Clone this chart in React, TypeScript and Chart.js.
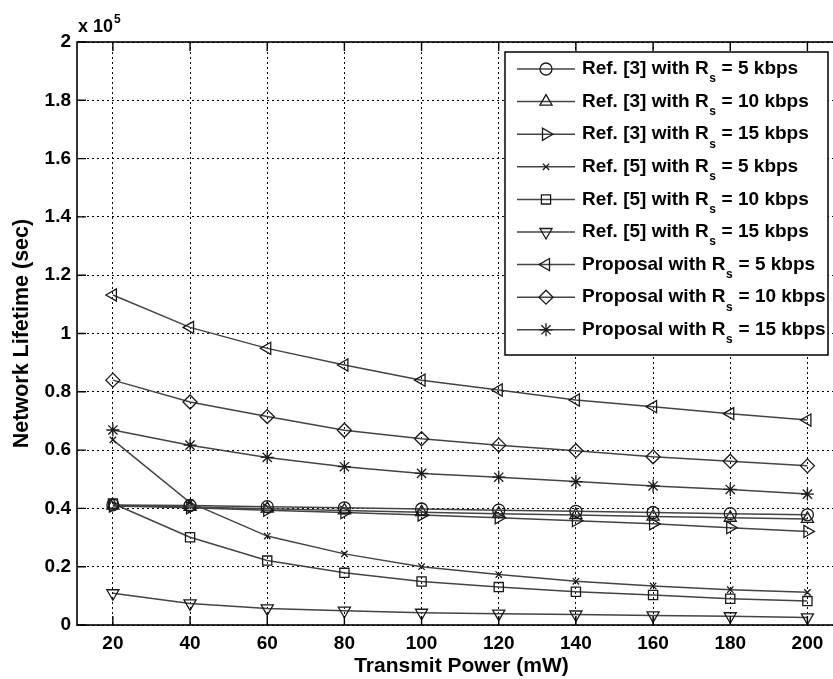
import React, { useEffect, useRef } from 'react';
import { Chart, registerables } from 'chart.js';
import { drawPoint } from 'chart.js/helpers';

Chart.register(...registerables);

// ---- data ----
const powers = [20, 40, 60, 80, 100, 120, 140, 160, 180, 200];
const xTickValues = [20, 40, 60, 80, 100, 120, 140, 160, 180, 200];
const yTickValues = [0, 20000, 40000, 60000, 80000, 100000, 120000, 140000, 160000, 180000, 200000];

const ref3Rs5 = [41200, 41000, 40600, 40200, 39800, 39400, 39000, 38600, 38200, 37800];
const ref3Rs10 = [41000, 40500, 39900, 39300, 38700, 38200, 37700, 37200, 36800, 36400];
const ref3Rs15 = [40800, 40200, 39400, 38600, 37700, 36800, 35800, 34700, 33400, 32100];
const ref5Rs5 = [63500, 42000, 30500, 24400, 20000, 17300, 15000, 13400, 12100, 11200];
const ref5Rs10 = [41700, 30100, 22100, 17900, 14900, 13000, 11400, 10300, 9000, 8200];
const ref5Rs15 = [10900, 7400, 5700, 4900, 4200, 3900, 3600, 3300, 3000, 2600];
const propRs5 = [113200, 102100, 94900, 89200, 84000, 80600, 77200, 74900, 72500, 70300];
const propRs10 = [84000, 76500, 71500, 66800, 63900, 61700, 59800, 57700, 56200, 54600];
const propRs15 = [66900, 61700, 57500, 54300, 52000, 50700, 49200, 47700, 46500, 44900];

const legendPrefixes = [
  'Ref. [3] with R', 'Ref. [3] with R', 'Ref. [3] with R',
  'Ref. [5] with R', 'Ref. [5] with R', 'Ref. [5] with R',
  'Proposal with R', 'Proposal with R', 'Proposal with R',
];
const legendSuffixes = [
  ' = 5 kbps', ' = 10 kbps', ' = 15 kbps',
  ' = 5 kbps', ' = 10 kbps', ' = 15 kbps',
  ' = 5 kbps', ' = 10 kbps', ' = 15 kbps',
];

const xTitle = 'Transmit Power (mW)';
const yTitle = 'Network Lifetime (sec)';

const FONT = '"Liberation Sans", Arial, Helvetica, sans-serif';
const LINE_COLOR = '#444444';
const MARK_COLOR = '#1a1a1a';

type Series = { data: number[]; style: string; rotation: number; radius: number };
const series: Series[] = [
  { data: ref3Rs5, style: 'circle', rotation: 0, radius: 6 },
  { data: ref3Rs10, style: 'triangle', rotation: 0, radius: 7 },
  { data: ref3Rs15, style: 'triangle', rotation: 90, radius: 7 },
  { data: ref5Rs5, style: 'crossRot', rotation: 0, radius: 4.5 },
  { data: ref5Rs10, style: 'rect', rotation: 0, radius: 6.5 },
  { data: ref5Rs15, style: 'triangle', rotation: 180, radius: 7 },
  { data: propRs5, style: 'triangle', rotation: 270, radius: 7 },
  { data: propRs10, style: 'rectRot', rotation: 0, radius: 7 },
  { data: propRs15, style: 'star', rotation: 0, radius: 6.5 },
];

const decorPlugin = {
  id: 'decor',
  afterDraw(chart: any) {
    const { ctx, chartArea } = chart;
    const { left, right, top, bottom } = chartArea;
    const xs = chart.scales.x;
    const ys = chart.scales.y;
    ctx.save();
    // axis box (its right edge is beyond the visible picture)
    ctx.strokeStyle = '#000';
    ctx.lineWidth = 1.6;
    ctx.setLineDash([]);
    ctx.strokeRect(left, top, right - left, bottom - top);
    // inward ticks
    ctx.lineWidth = 1.4;
    ctx.beginPath();
    xTickValues.forEach((v) => {
      const px = xs.getPixelForValue(v);
      ctx.moveTo(px, bottom);
      ctx.lineTo(px, bottom - 9);
      ctx.moveTo(px, top);
      ctx.lineTo(px, top + 9);
    });
    yTickValues.forEach((v) => {
      const py = ys.getPixelForValue(v);
      ctx.moveTo(left, py);
      ctx.lineTo(left + 9, py);
      ctx.moveTo(right, py);
      ctx.lineTo(right - 9, py);
    });
    ctx.stroke();

    // exponent label
    ctx.fillStyle = '#000';
    ctx.textBaseline = 'alphabetic';
    ctx.textAlign = 'left';
    ctx.font = `bold 18px ${FONT}`;
    ctx.fillText('x 10', left + 1, 32);
    const w10 = ctx.measureText('x 10').width;
    ctx.font = `bold 12px ${FONT}`;
    ctx.fillText('5', left + 1 + w10 + 1, 23);

    // legend
    const bx = 505, by = 52, bw = 323, bh = 303;
    ctx.fillStyle = '#fff';
    ctx.fillRect(bx, by, bw, bh);
    ctx.strokeStyle = '#000';
    ctx.lineWidth = 1.5;
    ctx.strokeRect(bx, by, bw, bh);
    series.forEach((s, i) => {
      const y = 69 + i * 32.6;
      ctx.strokeStyle = LINE_COLOR;
      ctx.lineWidth = 1.5;
      ctx.beginPath();
      ctx.moveTo(517, y);
      ctx.lineTo(575, y);
      ctx.stroke();
      ctx.strokeStyle = MARK_COLOR;
      ctx.fillStyle = 'rgba(0,0,0,0)';
      ctx.lineWidth = 1.3;
      drawPoint(ctx, { pointStyle: s.style as any, rotation: s.rotation, radius: s.radius, borderWidth: 1.3 }, 546, y);
      ctx.fillStyle = '#000';
      ctx.textBaseline = 'middle';
      ctx.font = `bold 19px ${FONT}`;
      ctx.fillText(legendPrefixes[i], 582, y);
      let tx = 582 + ctx.measureText(legendPrefixes[i]).width;
      ctx.font = `bold 12px ${FONT}`;
      ctx.fillText('s', tx + 0.5, y + 10);
      tx += ctx.measureText('s').width + 1;
      ctx.font = `bold 19px ${FONT}`;
      ctx.fillText(legendSuffixes[i], tx, y);
    });
    ctx.restore();
  },
};

export default function App() {
  const canvasRef = useRef<HTMLCanvasElement | null>(null);

  useEffect(() => {
    if (!canvasRef.current) return;
    const chart = new Chart(canvasRef.current, {
      type: 'line',
      data: {
        datasets: series.map((s, i) => ({
          label: legendPrefixes[i] + 's' + legendSuffixes[i],
          data: s.data.map((v, j) => ({ x: powers[j], y: v })),
          borderColor: LINE_COLOR,
          borderWidth: 1.5,
          backgroundColor: 'rgba(0,0,0,0)',
          pointStyle: s.style as any,
          pointRotation: s.rotation,
          pointRadius: s.radius,
          pointBorderColor: MARK_COLOR,
          pointBackgroundColor: 'rgba(0,0,0,0)',
          pointBorderWidth: 1.3,
          tension: 0,
          fill: false,
        })),
      },
      options: {
        animation: false,
        responsive: false,
        devicePixelRatio: 1,
        layout: { padding: { top: 42, right: 74, left: 0, bottom: 0 } },
        plugins: { legend: { display: false }, tooltip: { enabled: false } },
        scales: {
          x: {
            type: 'linear',
            min: 10.7,
            max: 210,
            afterBuildTicks: (s: any) => {
              s.ticks = xTickValues.map((v) => ({ value: v }));
            },
            afterFit: (s: any) => {
              s.height = 54;
            },
            ticks: {
              color: '#000',
              font: { family: FONT, size: 19, weight: 'bold' },
              padding: 7,
              maxRotation: 0,
              autoSkip: false,
              callback: (v: any) => String(v),
            },
            grid: { color: '#000', lineWidth: 1, drawTicks: false },
            border: { display: false, dash: [2, 3] },
            title: {
              display: true,
              text: xTitle,
              color: '#000',
              font: { family: FONT, size: 21, weight: 'bold' },
              padding: { top: 0, bottom: 0 },
            },
          },
          y: {
            type: 'linear',
            min: 0,
            max: 200000,
            afterBuildTicks: (s: any) => {
              s.ticks = yTickValues.map((v) => ({ value: v }));
            },
            afterFit: (s: any) => {
              s.width = 77;
            },
            ticks: {
              color: '#000',
              font: { family: FONT, size: 19, weight: 'bold' },
              padding: 6,
              autoSkip: false,
              callback: (v: any) => String(Number((v / 100000).toFixed(1))),
            },
            grid: { color: '#000', lineWidth: 1, drawTicks: false },
            border: { display: false, dash: [2, 3] },
            title: {
              display: true,
              text: yTitle,
              color: '#000',
              font: { family: FONT, size: 21.5, weight: 'bold' },
              padding: { top: 9, bottom: 0 },
            },
          },
        },
      },
      plugins: [decorPlugin],
    });
    return () => chart.destroy();
  }, []);

  return (
    <div
      style={{
        position: 'fixed',
        left: 0,
        top: 0,
        width: 833,
        height: 679,
        overflow: 'hidden',
        background: '#fff',
      }}
    >
      <canvas ref={canvasRef} width={920} height={679} style={{ display: 'block' }} />
    </div>
  );
}
